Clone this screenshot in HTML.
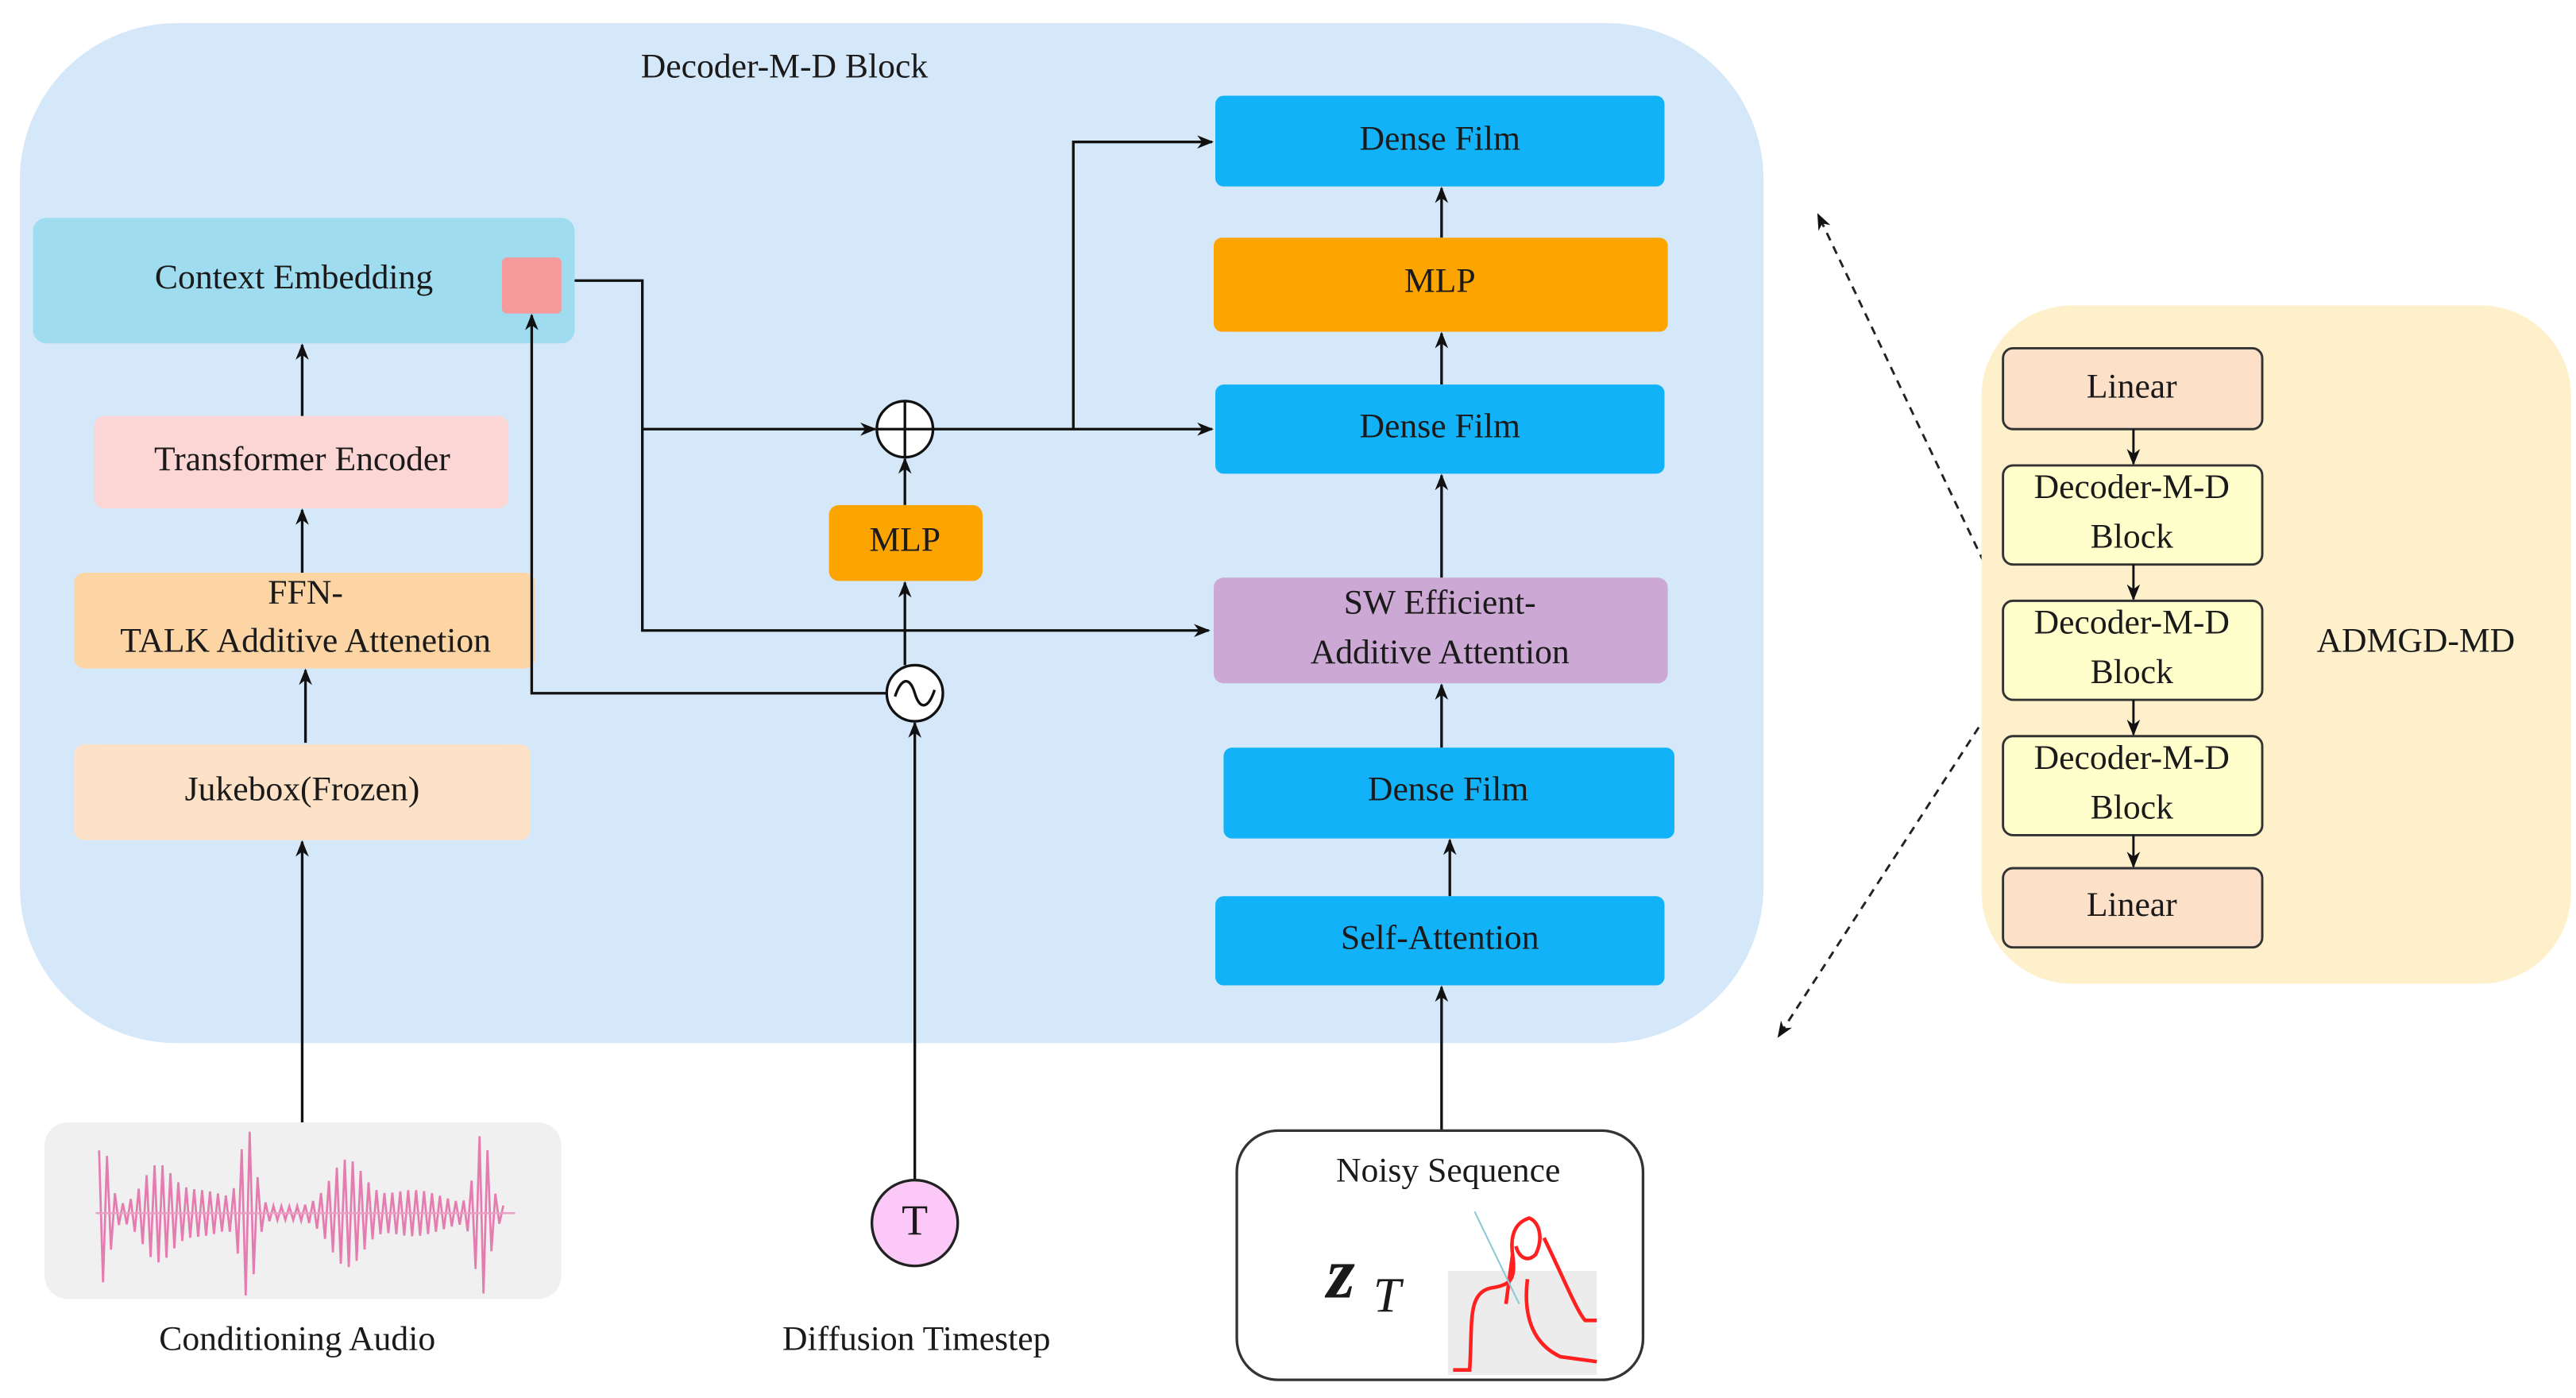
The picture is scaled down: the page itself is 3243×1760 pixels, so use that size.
<!DOCTYPE html>
<html><head><meta charset="utf-8"><style>
html,body{margin:0;padding:0;background:#fff;}
svg{display:block;}
svg text{font-family:"Liberation Serif","DejaVu Serif",serif !important;font-size:21px;fill:#1a1a1a;text-anchor:middle;dominant-baseline:middle;}
</style></head><body>
<svg width="3243" height="1760" viewBox="0 0 1560 847" preserveAspectRatio="none" xmlns="http://www.w3.org/2000/svg" font-family="Liberation Serif, serif">
<defs>
<marker id="ar" markerWidth="10" markerHeight="10" refX="9" refY="5" orient="auto" markerUnits="userSpaceOnUse">
<path d="M0,1 L10,5 L0,9 L3,5 z" fill="#111"/></marker>
</defs>
<rect x="12" y="14" width="1056" height="618" rx="95" fill="#d5e8fa"/>
<text x="475" y="42">Decoder-M-D Block</text>

<rect x="20" y="132" width="328" height="76" rx="8" fill="#9fdcf0"/>
<text x="178" y="170">Context Embedding</text>
<rect x="304" y="156" width="36" height="34" rx="3" fill="#f59a9a"/>
<rect x="57" y="252" width="251" height="56" rx="6" fill="#fbd6d4"/>
<text x="183" y="280">Transformer Encoder</text>
<rect x="45" y="347" width="279" height="58" rx="6" fill="#fdd4a4"/>
<text x="185" y="361">FFN-</text>
<text x="185" y="390">TALK Additive Attenetion</text>
<rect x="45" y="451" width="276" height="58" rx="6" fill="#fde2c8"/>
<text x="183" y="480">Jukebox(Frozen)</text>

<g stroke="#111" stroke-width="1.6" fill="none">
<line x1="183" y1="680" x2="183" y2="510" marker-end="url(#ar)"/>
<line x1="185" y1="450" x2="185" y2="406" marker-end="url(#ar)"/>
<line x1="183" y1="347" x2="183" y2="309" marker-end="url(#ar)"/>
<line x1="183" y1="252" x2="183" y2="209" marker-end="url(#ar)"/>
<polyline points="537,420 322,420 322,191" marker-end="url(#ar)"/>
<line x1="554" y1="715" x2="554" y2="438" marker-end="url(#ar)"/>
<line x1="548" y1="403" x2="548" y2="353" marker-end="url(#ar)"/>
<line x1="548" y1="306" x2="548" y2="278" marker-end="url(#ar)"/>
<polyline points="348,170 389,170 389,382 732,382" marker-end="url(#ar)"/>
<line x1="389" y1="260" x2="530" y2="260" marker-end="url(#ar)"/>
<line x1="565" y1="260" x2="734" y2="260" marker-end="url(#ar)"/>
<polyline points="650,260 650,86 734,86" marker-end="url(#ar)"/>
<line x1="873" y1="685" x2="873" y2="598" marker-end="url(#ar)"/>
<line x1="878" y1="543" x2="878" y2="509" marker-end="url(#ar)"/>
<line x1="873" y1="453" x2="873" y2="415" marker-end="url(#ar)"/>
<line x1="873" y1="350" x2="873" y2="288" marker-end="url(#ar)"/>
<line x1="873" y1="233" x2="873" y2="202" marker-end="url(#ar)"/>
<line x1="873" y1="144" x2="873" y2="114" marker-end="url(#ar)"/>
</g>

<rect x="502" y="306" width="93" height="46" rx="6" fill="#fca400"/>
<text x="548" y="329">MLP</text>
<circle cx="548" cy="260" r="17" fill="#fff" stroke="#111" stroke-width="1.6"/>
<path d="M531,260 H565 M548,243 V277" stroke="#111" stroke-width="1.6"/>
<circle cx="554" cy="420" r="17" fill="#fff" stroke="#111" stroke-width="1.6"/>
<path d="M542,422 C546,410 551,410 554,420 C557,430 562,430 566,418" stroke="#111" stroke-width="1.6" fill="none"/>

<rect x="736" y="58" width="272" height="55" rx="5" fill="#12b2f8"/>
<text x="872" y="86">Dense Film</text>
<rect x="735" y="144" width="275" height="57" rx="5" fill="#fca400"/>
<text x="872" y="172">MLP</text>
<rect x="736" y="233" width="272" height="54" rx="5" fill="#12b2f8"/>
<text x="872" y="260">Dense Film</text>
<rect x="735" y="350" width="275" height="64" rx="6" fill="#cca8d4"/>
<text x="872" y="367">SW Efficient-</text>
<text x="872" y="397">Additive Attention</text>
<rect x="741" y="453" width="273" height="55" rx="5" fill="#12b2f8"/>
<text x="877" y="480">Dense Film</text>
<rect x="736" y="543" width="272" height="54" rx="5" fill="#12b2f8"/>
<text x="872" y="570">Self-Attention</text>

<rect x="27" y="680" width="313" height="107" rx="14" fill="#f0f0f0"/>
<polyline id="wave" fill="none" stroke="#e57cb0" stroke-width="1.3" points=""/>
<line x1="58" y1="735" x2="312" y2="735" stroke="#eaa0c4" stroke-width="1.2"/>
<text x="180" y="813">Conditioning Audio</text>

<circle cx="554" cy="741" r="26" fill="#fcc8f8" stroke="#222" stroke-width="1.6"/>
<text x="554" y="742" style="font-size:26px">T</text>
<text x="555" y="813">Diffusion Timestep</text>

<rect x="749" y="685" width="246" height="151" rx="25" fill="#fff" stroke="#333" stroke-width="1.6"/>
<text x="877" y="711">Noisy Sequence</text>
<text x="812" y="776" style="font-size:44px;font-style:italic;font-weight:bold">z</text>
<text x="840" y="788" style="font-size:30px;font-style:italic">T</text>
<rect x="877" y="770" width="90" height="63" fill="#ececec"/>
<g stroke="#ff2020" stroke-width="2.2" fill="none">
<path d="M880,830 H890 C892,800 888,782 905,780 C915,778 918,775 916,760 C914,745 920,740 926,738 C932,740 935,750 930,760 C925,765 920,762 918,755"/>
<path d="M916,760 L912,790"/>
<path d="M935,750 C945,770 955,795 960,800 H967"/>
<path d="M925,775 C922,800 930,815 945,822 L967,825"/>
</g>
<line x1="893" y1="734" x2="920" y2="790" stroke="#8cc8d8" stroke-width="1"/>

<g stroke="#222" stroke-width="1.4" stroke-dasharray="5,4" fill="none">
<line x1="1213" y1="365" x2="1101" y2="130" marker-end="url(#ar)"/>
<line x1="1213" y1="418" x2="1077" y2="628" marker-end="url(#ar)"/>
</g>

<rect x="1200" y="185" width="357" height="411" rx="55" fill="#fff0cc"/>
<rect x="1213" y="211" width="157" height="49" rx="6" fill="#fde0c8" stroke="#333" stroke-width="1.4"/>
<text x="1291" y="236">Linear</text>
<rect x="1213" y="282" width="157" height="60" rx="6" fill="#ffffcc" stroke="#333" stroke-width="1.4"/>
<text x="1291" y="297">Decoder-M-D</text><text x="1291" y="327">Block</text>
<rect x="1213" y="364" width="157" height="60" rx="6" fill="#ffffcc" stroke="#333" stroke-width="1.4"/>
<text x="1291" y="379">Decoder-M-D</text><text x="1291" y="409">Block</text>
<rect x="1213" y="446" width="157" height="60" rx="6" fill="#ffffcc" stroke="#333" stroke-width="1.4"/>
<text x="1291" y="461">Decoder-M-D</text><text x="1291" y="491">Block</text>
<rect x="1213" y="526" width="157" height="48" rx="6" fill="#fde0c8" stroke="#333" stroke-width="1.4"/>
<text x="1291" y="550">Linear</text>
<g stroke="#111" stroke-width="1.4">
<line x1="1292" y1="260" x2="1292" y2="281" marker-end="url(#ar)"/>
<line x1="1292" y1="342" x2="1292" y2="363" marker-end="url(#ar)"/>
<line x1="1292" y1="424" x2="1292" y2="445" marker-end="url(#ar)"/>
<line x1="1292" y1="506" x2="1292" y2="525" marker-end="url(#ar)"/>
</g>
<text x="1463" y="390">ADMGD-MD</text>
</svg>
<script>
(function(){
var pts=[],x,i=0;
function env(x){
 var bursts=[[62,38,6],[95,22,12],[150,45,6],[210,28,14],[292,45,6],[120,10,25],[250,10,25]];
 var a=4;
 bursts.forEach(function(b){a+=b[1]*Math.exp(-Math.pow((x-b[0])/b[2],2));});
 return a;}
for(x=60;x<=306;x+=2.4){var s=(i%2?1:-1);pts.push(x.toFixed(1)+","+(735+s*env(x)).toFixed(1));i++;}
document.getElementById('wave').setAttribute('points',pts.join(' '));
})();
</script>
</body></html>
